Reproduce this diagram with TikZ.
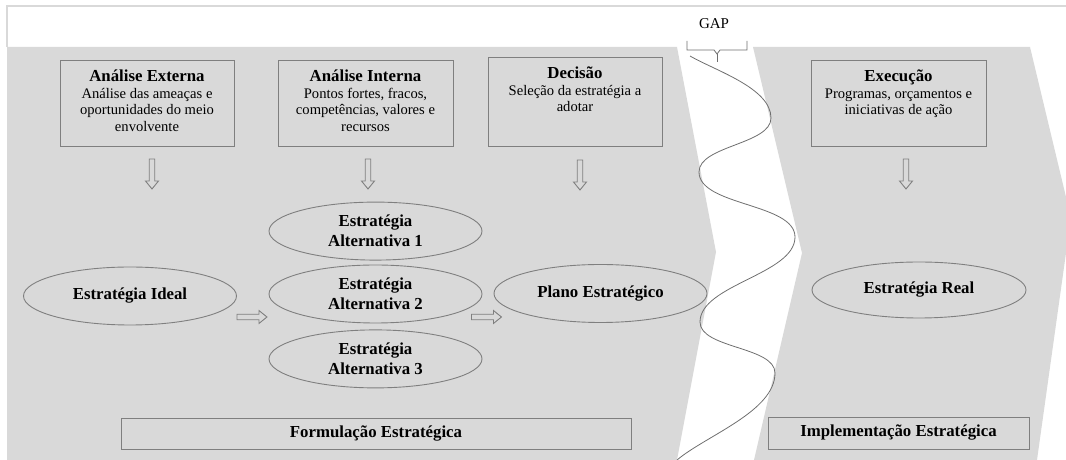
\documentclass[tikz,border=0pt]{standalone}
\usepackage{fontspec}
\setmainfont{Liberation Serif}
\usetikzlibrary{positioning,calc,shapes.geometric}

\definecolor{fundo}{HTML}{D9D9D9}
\definecolor{borda}{HTML}{7F7F7F}
\definecolor{onda}{HTML}{6E6E6E}

% texto das caixas: titulo a negrito e descricao, alinhados ao topo
\newcommand{\textocaixa}[3][74pt]{\parbox[t][#1][t]{168pt}{\centering\fontsize{14.6}{16.6}\selectfont{\fontsize{16.8}{16.6}\selectfont\bfseries\rule{0pt}{15pt}#2}\\#3}}

\tikzset{
    seta/.pic={
        \draw[borda, line width=0.9pt] (-2.75,0) -- (-2.75,-22) -- (-6.5,-22) -- (0,-30) -- (6.5,-22) -- (2.75,-22) -- (2.75,0) -- cycle;
    }
}

\begin{document}
\begin{tikzpicture}[x=1pt,y=1pt]
            \tikzstyle{caixa}=[draw=borda, line width=0.9pt, inner xsep=3pt, inner ysep=5pt, minimum width=174pt, minimum height=86pt, anchor=south]
            \tikzstyle{elipse}=[ellipse, draw=borda, line width=0.9pt, inner sep=0pt, minimum width=213pt, minimum height=58pt, align=center, font=\fontsize{16.8}{20}\selectfont\bfseries]
            \tikzstyle{faixa}=[draw=borda, line width=0.9pt, minimum height=31pt, font=\fontsize{16.8}{20}\selectfont\bfseries]

            \useasboundingbox (0,0) rectangle (1066,460);

            % fundo: as duas fases
            \draw[fundo, line width=1.5pt] (7,413) -- (7,454) -- (1070,454);
            \fill[fundo] (7,0) -- (7,413) -- (677,413) -- (716,208) -- (677,0) -- cycle;
            \fill[fundo] (753,413) -- (1030,413) -- (1066,263) -- (1066,207) -- (1037,0) -- (754,0) -- (802,207) -- cycle;

            % GAP
            \node[font=\fontsize{15}{18}\selectfont] (gap) at (714,436) {GAP};
            \draw[onda, line width=0.8pt] (687,419) |- (714,410) -- (717,406) -- (720,410) -| (747,419);
            \draw[onda, line width=0.8pt] (717,406) -- (717,398);
            \draw[onda, line width=0.8pt, looseness=0.75] (690,404) to[out=-30,in=90] (771,342)
                to[out=-90,in=90] (699,288) to[out=-90,in=90] (795,223)
                to[out=-90,in=90] (700,138) to[out=-90,in=90] (775,87)
                to[out=-90,in=40] (677,0);

            % caixas de topo
            \node[caixa] (ext) at (147,313) {\textocaixa{Análise Externa}{Análise das ameaças e\\oportunidades do meio\\envolvente}};
            \node[caixa, minimum width=175pt] (int) at (365.5,313) {\textocaixa{Análise Interna}{Pontos fortes, fracos,\\competências, valores e\\recursos}};
            \node[caixa, minimum height=89pt] (dec) at (575,313) {\textocaixa[77pt]{Decisão}{Seleção da estratégia a\\adotar}};
            \node[caixa, minimum width=175pt] (exe) at (898.5,313) {\textocaixa{Execução}{Programas, orçamentos e\\iniciativas de ação}};

            % estrategias
            \node[elipse] (ideal) at (130,164) {Estratégia Ideal};
            \node[elipse] (alt2) at (375.5,166) {Estratégia\\Alternativa 2};
            \node[elipse, above=4pt of alt2] (alt1) {Estratégia\\Alternativa 1};
            \node[elipse, below=6pt of alt2] (alt3) {Estratégia\\Alternativa 3};
            \node[elipse] (plano) at (600.5,166.5) {Plano Estratégico};
            \node[elipse, minimum width=214pt, minimum height=56pt] (real) at (919,170) {Estratégia Real};

            % fases
            \node[faixa, minimum width=510pt] (form) at (376,26.5) {Formulação Estratégica};
            \node[faixa, minimum width=261pt, minimum height=32pt] (impl) at (898.5,27) {Implementação Estratégica};

            % setas
            \pic at ($(ext.south)+(5,-12)$) {seta};
            \pic at ($(int.south)+(2.5,-12)$) {seta};
            \pic at ($(dec.south)+(5,-13)$) {seta};
            \pic at ($(exe.south)+(7.5,-12)$) {seta};
            \pic[rotate=90] at ($(ideal.east)+(0,-21)$) {seta};
            \pic[rotate=90] at ($(alt2.east)+(-11,-23)$) {seta};
\end{tikzpicture}
\end{document}
